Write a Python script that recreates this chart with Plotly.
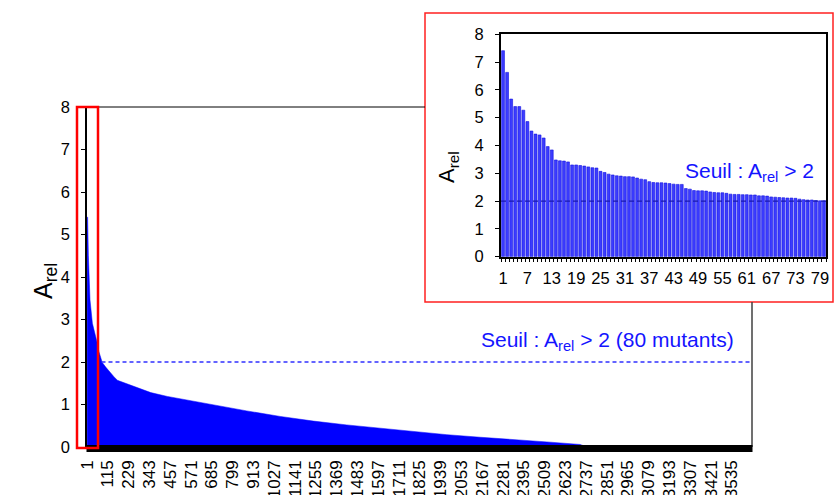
import plotly.graph_objects as go

W, H = 835, 495
FONT = "'Liberation Sans', Arial, sans-serif"

# ---------------- data ----------------
N_MUTANTS = 3645          # number of ranked mutants
THRESHOLD = 2             # A_rel threshold
N_ABOVE = 80              # mutants above threshold

# sorted A_rel profile, sampled along the rank axis
main_rank = [1, 4, 8, 12, 17, 30, 44, 57, 66, 76, 80, 84, 103, 130, 149, 167,
             221, 276, 350, 441, 532, 693, 876, 1059, 1241, 1424, 1607, 1790,
             1973, 2155, 2338, 2521, 2703, 2742, 3645]
main_arel = [5.42, 5.40, 4.50, 3.90, 3.46, 2.91, 2.68, 2.44, 2.24, 2.08, 2.01, 1.99,
             1.88, 1.73, 1.65, 1.57, 1.49, 1.40, 1.28, 1.19, 1.12, 0.98, 0.85,
             0.72, 0.61, 0.52, 0.44, 0.37, 0.29, 0.23, 0.18, 0.12, 0.06, 0.0, 0.0]

main_ticks = ["1", "115", "229", "343", "457", "571", "685", "799", "913", "1027",
              "1141", "1255", "1369", "1483", "1597", "1711", "1825", "1939",
              "2053", "2167", "2281", "2395", "2509", "2623", "2737", "2851",
              "2965", "3079", "3193", "3307", "3421", "3535"]

# top 80 mutants (zoomed view)
top_arel = [7.41, 6.63, 5.67, 5.40, 5.40, 5.27, 4.86, 4.52, 4.41, 4.38,
            4.27, 3.96, 3.84, 3.48, 3.45, 3.44, 3.41, 3.30, 3.30, 3.28,
            3.26, 3.23, 3.20, 3.19, 3.07, 3.03, 2.97, 2.94, 2.91, 2.90,
            2.88, 2.88, 2.87, 2.83, 2.79, 2.77, 2.70, 2.67, 2.66, 2.66,
            2.65, 2.63, 2.61, 2.60, 2.60, 2.45, 2.43, 2.38, 2.37, 2.37,
            2.36, 2.33, 2.31, 2.30, 2.30, 2.28, 2.25, 2.24, 2.24, 2.23,
            2.23, 2.22, 2.22, 2.19, 2.19, 2.18, 2.15, 2.14, 2.13, 2.12,
            2.11, 2.11, 2.10, 2.07, 2.05, 2.04, 2.04, 2.02, 2.01, 2.01]
top_rank = list(range(1, len(top_arel) + 1))
top_ticks = [str(v) for v in range(1, 80, 6)]


def fx(p):
    return p / W


def fy(p):
    return 1 - p / H


fig = go.Figure()

# main ranking profile
fig.add_trace(go.Scatter(
    x=main_rank, y=main_arel, mode="lines", fill="tozeroy",
    line=dict(color="#0000ff", width=0.5), fillcolor="#0000ff",
    xaxis="x", yaxis="y", hoverinfo="skip", showlegend=False))

# zoomed bars
fig.add_trace(go.Bar(
    x=top_rank, y=top_arel, xaxis="x2", yaxis="y2",
    marker=dict(color="#3c3cff", line=dict(color="#1010e0", width=0.6)),
    showlegend=False))

shapes = [
    # inset panel (white, red frame)
    dict(type="rect", xref="paper", yref="paper", x0=fx(425), x1=fx(833),
         y0=fy(302), y1=fy(13), fillcolor="white",
         line=dict(color="#ff2020", width=1.5), layer="below"),
    # frame of the main plot (top and right edges)
    dict(type="line", xref="paper", yref="paper", x0=fx(87), x1=fx(425),
         y0=fy(107), y1=fy(107), line=dict(color="black", width=1)),
    dict(type="line", xref="paper", yref="paper", x0=fx(752), x1=fx(752),
         y0=fy(302), y1=fy(447), line=dict(color="#404040", width=1.5)),
    # dense category ticks under the main axis
    dict(type="rect", xref="paper", yref="paper", x0=fx(86.5), x1=fx(752.5),
         y0=fy(452), y1=fy(445), fillcolor="black", line=dict(width=0),
         layer="above"),
    # threshold lines
    dict(type="line", xref="x", yref="y", x0=N_ABOVE, x1=N_MUTANTS + 0.5,
         y0=THRESHOLD, y1=THRESHOLD,
         line=dict(color="#3030ff", width=1.5, dash="4px,3px")),
    dict(type="line", xref="x2 domain", yref="y2", x0=0, x1=1,
         y0=THRESHOLD, y1=THRESHOLD, layer="above",
         line=dict(color="#1a1ab0", width=1.2, dash="5px,3px")),
    # highlight of the top-80 region
    dict(type="rect", xref="paper", yref="paper", x0=fx(77), x1=fx(98),
         y0=fy(448), y1=fy(107), line=dict(color="#ff0000", width=2.5)),
]

annotations = [
    dict(text="A<sub>rel</sub>", xref="paper", yref="paper", x=fx(27), y=fy(281),
         textangle=-90, showarrow=False, font=dict(size=25, color="black")),
    dict(text="A<sub>rel</sub>", xref="paper", yref="paper", x=fx(448), y=fy(149),
         textangle=-90, showarrow=False, font=dict(size=22, color="black")),
    dict(text="Seuil : A<sub>rel</sub> > 2 (80 mutants)", xref="paper", yref="paper",
         x=fx(479), y=fy(341), xanchor="left", yanchor="middle", showarrow=False,
         font=dict(size=21, color="#1414ff")),
    dict(text="Seuil : A<sub>rel</sub> > 2", xref="paper", yref="paper",
         x=fx(683), y=fy(172), xanchor="left", yanchor="middle", showarrow=False,
         font=dict(size=21, color="#1414ff")),
]

tick_font = dict(family=FONT, size=16.5, color="black")

fig.update_layout(
    width=W, height=H, autosize=False,
    margin=dict(l=0, r=0, t=0, b=0),
    paper_bgcolor="white", plot_bgcolor="white",
    font=dict(family=FONT, color="black"),
    bargap=0.3,
    shapes=shapes, annotations=annotations,
    xaxis=dict(domain=[fx(87), fx(752)], range=[0.5, N_MUTANTS + 0.5],
               anchor="y", tickmode="array",
               tickvals=[int(t) for t in main_ticks], ticktext=main_ticks,
               tickangle=-90, ticks="", ticklabelstandoff=9,
               showgrid=False, zeroline=False, showline=False,
               tickfont=dict(family=FONT, size=17, color="black"),
               automargin=False),
    yaxis=dict(domain=[fy(447), fy(107)], range=[0, 8], dtick=1, anchor="x",
               showline=True, linecolor="black", linewidth=1.5,
               ticks="outside", ticklen=4, tickcolor="black",
               ticklabelstandoff=8,
               showgrid=False, zeroline=False, tickfont=tick_font,
               automargin=False),
    xaxis2=dict(domain=[fx(501), fx(826)], range=[0.5, len(top_arel) + 0.5],
                anchor="y2", tickmode="array",
                tickvals=[int(t) for t in top_ticks], ticktext=top_ticks,
                ticks="", ticklabelstandoff=6,
                minor=dict(tickmode="linear", tick0=0.5, dtick=1,
                           ticks="outside", ticklen=4, tickcolor="black",
                           showgrid=False),
                showline=True, mirror=True, linecolor="black", linewidth=1.5,
                showgrid=False, zeroline=False, tickfont=tick_font,
                automargin=False),
    yaxis2=dict(domain=[fy(256.7), fy(34.3)], range=[0, 8], dtick=1,
                anchor="x2", showline=True, mirror=True, linecolor="black",
                linewidth=1.8, ticks="outside", ticklen=4, tickcolor="black",
                ticklabelstandoff=8,
                showgrid=False, zeroline=False, tickfont=tick_font,
                automargin=False),
)

fig.write_html("out.html")
